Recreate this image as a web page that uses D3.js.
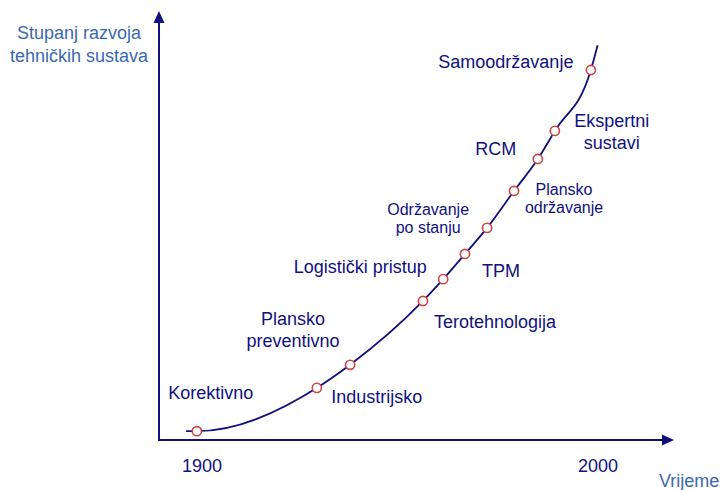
<!DOCTYPE html>
<html>
<head>
<meta charset="utf-8">
<script src="https://cdn.jsdelivr.net/npm/d3@7"></script>
<style>
  html, body { margin: 0; padding: 0; background: #fff; }
  svg { display: block; font-family: "Liberation Sans", Arial, sans-serif; }
</style>
</head>
<body>
<svg id="chart" width="725" height="490"></svg>
<script>
// ---- data ----
const stageNames = [
  ["Korektivno"],
  ["Industrijsko"],
  ["Plansko", "preventivno"],
  ["Terotehnologija"],
  ["Logistički pristup"],
  ["TPM"],
  ["Održavanje", "po stanju"],
  ["Plansko", "održavanje"],
  ["RCM"],
  ["Ekspertni", "sustavi"],
  ["Samoodržavanje"]
];
const stageYears = [1898.7, 1929.0, 1937.4, 1955.8, 1960.9, 1966.4, 1972.0, 1978.8, 1984.8, 1989.1, 1998.2];
const stageLevels = [2.1, 12.4, 17.9, 33.1, 38.3, 44.3, 50.5, 59.3, 66.9, 73.6, 88.1];
const curveStart = [1896.0, 2.1];
const curveEnd = [1999.9, 94.0];
const xTickLabels = [1900, 2000];
const yTitle = ["Stupanj razvoja", "tehničkih sustava"];
const xTitle = "Vrijeme";

// ---- layout (label offsets from their point, in px) ----
const labelLayout = [
  { dx: 14, dy: -32, size: 18, lh: 22 },
  { dx: 60, dy: 15, size: 18, lh: 22 },
  { dx: -57, dy: -40, size: 18, lh: 22 },
  { dx: 72, dy: 27, size: 18, lh: 22 },
  { dx: -83, dy: -6, size: 18, lh: 22 },
  { dx: 36, dy: 23, size: 18, lh: 22 },
  { dx: -59, dy: -13, size: 16, lh: 18 },
  { dx: 50, dy: 4, size: 16, lh: 18 },
  { dx: -42, dy: -4, size: 18, lh: 22 },
  { dx: 57, dy: -4, size: 18, lh: 22 },
  { dx: -85, dy: -2, size: 18, lh: 22 }
];

const navy = "#10107f";
const titleBlue = "#3a68b0";
const markerRed = "#cc4444";

const svg = d3.select("#chart");
const x = d3.scaleLinear().domain([1900, 2000]).range([202, 598]);
const y = d3.scaleLinear().domain([0, 100]).range([440, 20]);

const originX = 159, originY = 440;

// axes
svg.append("line").attr("x1", originX).attr("y1", originY + 1).attr("x2", originX).attr("y2", 22)
  .attr("stroke", navy).attr("stroke-width", 2);
svg.append("path").attr("d", `M${originX},11 L${originX - 5.5},23 L${originX + 5.5},23 Z`).attr("fill", navy);
svg.append("line").attr("x1", originX - 1).attr("y1", originY).attr("x2", 664).attr("y2", originY)
  .attr("stroke", navy).attr("stroke-width", 2);
svg.append("path").attr("d", `M674,${originY} L662,${originY - 5.5} L662,${originY + 5.5} Z`).attr("fill", navy);

// tick labels
svg.selectAll("text.tick").data(xTickLabels).enter().append("text")
  .attr("class", "tick")
  .attr("x", d => x(d)).attr("y", 472)
  .attr("text-anchor", "middle").attr("font-size", 18).attr("fill", navy)
  .text(d => d);

// axis titles
svg.append("text").attr("x", 79).attr("y", 39).attr("text-anchor", "middle")
  .attr("font-size", 18).attr("fill", titleBlue)
  .selectAll("tspan").data(yTitle).enter().append("tspan")
  .attr("x", 79).attr("dy", (d, i) => i === 0 ? 0 : 23).text(d => d);
svg.append("text").attr("x", 659).attr("y", 487).attr("font-size", 18).attr("fill", titleBlue).text(xTitle);

// curve
const curvePts = [curveStart].concat(stageYears.map((yr, i) => [yr, stageLevels[i]])).concat([curveEnd]);
const line = d3.line().x(d => x(d[0])).y(d => y(d[1])).curve(d3.curveMonotoneX);
svg.append("path").attr("d", line(curvePts)).attr("fill", "none")
  .attr("stroke", navy).attr("stroke-width", 1.8);

// points
svg.selectAll("circle.pt").data(stageYears).enter().append("circle")
  .attr("class", "pt")
  .attr("cx", d => x(d)).attr("cy", (d, i) => y(stageLevels[i]))
  .attr("r", 4.6).attr("fill", "#fff").attr("stroke", markerRed).attr("stroke-width", 1.6);

// labels
stageNames.forEach((lines, i) => {
  const L = labelLayout[i];
  const px = x(stageYears[i]) + L.dx;
  const py = y(stageLevels[i]) + L.dy;
  const t = svg.append("text").attr("x", px).attr("y", py)
    .attr("text-anchor", "middle").attr("font-size", L.size).attr("fill", navy);
  t.selectAll("tspan").data(lines).enter().append("tspan")
    .attr("x", px).attr("dy", (d, j) => j === 0 ? 0 : L.lh).text(d => d);
});
</script>
</body>
</html>
